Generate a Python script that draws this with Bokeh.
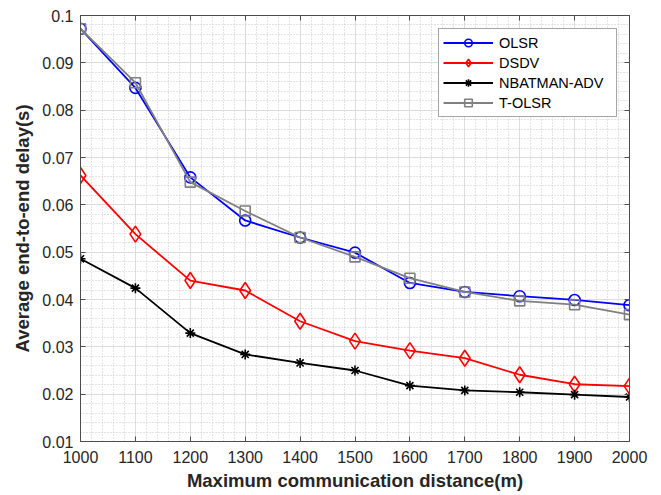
from bokeh.plotting import figure
from bokeh.models import (Range1d, FixedTicker, CustomJSTickFormatter, LinearAxis,
                          Legend, LegendItem)
from bokeh.embed import file_html
from bokeh.resources import INLINE

distance = [1000, 1100, 1200, 1300, 1400, 1500, 1600, 1700, 1800, 1900, 2000]
olsr = [0.0972, 0.0847, 0.0658, 0.0567, 0.0531, 0.0499, 0.0435, 0.0416, 0.0407, 0.0399, 0.0388]
dsdv = [0.0662, 0.0538, 0.0440, 0.0419, 0.0354, 0.0312, 0.0292, 0.0276, 0.0241, 0.0221, 0.0217]
nbatman = [0.0486, 0.0424, 0.0329, 0.0284, 0.0266, 0.0250, 0.0218, 0.0208, 0.0204, 0.0199, 0.0194]
tolsr = [0.0972, 0.0858, 0.0648, 0.0587, 0.0531, 0.0490, 0.0445, 0.0416, 0.0397, 0.0389, 0.0368]
series_names = ["OLSR", "DSDV", "NBATMAN-ADV", "T-OLSR"]
x_ticks = [1000, 1100, 1200, 1300, 1400, 1500, 1600, 1700, 1800, 1900, 2000]
y_ticks = [0.01, 0.02, 0.03, 0.04, 0.05, 0.06, 0.07, 0.08, 0.09, 0.1]

FONT = "Liberation Sans"
AX = "#4d4d4d"
TXT = "#262626"

p = figure(width=661, height=495, output_backend="svg", toolbar_location=None,
           x_range=Range1d(1000, 2000), y_range=Range1d(0.01, 0.1),
           min_border_left=80, min_border_right=32, min_border_top=15, min_border_bottom=54,
           background_fill_color="white", border_fill_color="white")
p.outline_line_color = AX

for ax in (p.xaxis[0], p.yaxis[0]):
    ax.axis_line_color = AX
    ax.major_tick_line_color = AX
    ax.major_tick_in = 5
    ax.major_tick_out = 0
    ax.minor_tick_in = 0
    ax.minor_tick_out = 0
    ax.major_label_text_font = FONT
    ax.major_label_text_color = TXT
    ax.axis_label_text_font = FONT
    ax.axis_label_text_font_style = "bold"
    ax.axis_label_text_color = TXT

p.xaxis.ticker = FixedTicker(ticks=x_ticks, minor_ticks=list(range(1000, 2001, 20)))
p.yaxis.ticker = FixedTicker(ticks=y_ticks, minor_ticks=[round(0.01 + 0.002 * i, 4) for i in range(46)])
p.yaxis.formatter = CustomJSTickFormatter(code="return parseFloat(tick.toFixed(3)).toString();")
p.xaxis.major_label_text_font_size = "16px"
p.yaxis.major_label_text_font_size = "16px"
p.xaxis.axis_label = "Maximum communication distance(m)"
p.yaxis.axis_label = "Average end-to-end delay(s)"
p.xaxis.axis_label_text_font_size = "18.5px"
p.yaxis.axis_label_text_font_size = "18.5px"
p.xaxis.major_label_standoff = 9
p.yaxis.major_label_standoff = 7
p.xaxis.axis_label_standoff = 4
p.yaxis.axis_label_standoff = 6

# top and right axes (box with ticks, no labels)
blank = CustomJSTickFormatter(code="return '';")
top = LinearAxis(ticker=FixedTicker(ticks=x_ticks), formatter=blank,
                 major_tick_in=5, major_tick_out=0, minor_tick_in=0, minor_tick_out=0,
                 axis_line_color=AX, major_tick_line_color=AX, major_label_text_font_size="1px",
                 major_label_standoff=0)
right = LinearAxis(ticker=FixedTicker(ticks=y_ticks), formatter=blank,
                   major_tick_in=5, major_tick_out=0, minor_tick_in=0, minor_tick_out=0,
                   axis_line_color=AX, major_tick_line_color=AX, major_label_text_font_size="1px",
                   major_label_standoff=0)
p.add_layout(top, "above")
p.add_layout(right, "right")

for g in (p.xgrid[0], p.ygrid[0]):
    g.grid_line_color = "#dcdcdc"
    g.grid_line_width = 1
    g.minor_grid_line_color = "#c8c8c8"
    g.minor_grid_line_dash = "1 2"
    g.minor_grid_line_width = 1

styles = [
    (olsr, "#0000ff", "circle", 11),
    (dsdv, "#ff0000", "diamond", 16),
    (nbatman, "#000000", "asterisk", 10),
    (tolsr, "#808080", "square", 10),
]
items = []
for name, (ys, col, mk, sz) in zip(series_names, styles):
    ln = p.line(distance, ys, line_color=col, line_width=1.8)
    sc = p.scatter(distance, ys, marker=mk, size=sz, line_color=col, fill_color=None,
                   line_width=1.6)
    items.append(LegendItem(label=name, renderers=[ln, sc]))

legend = Legend(items=items, location=(358, 324))
legend.label_text_font = FONT
legend.label_text_font_size = "14.5px"
legend.label_text_color = "#000000"
legend.glyph_width = 50
legend.glyph_height = 19
legend.label_height = 19
legend.label_width = 113
legend.spacing = 1
legend.padding = 4
legend.margin = 0
legend.border_line_color = AX
legend.border_line_width = 1
legend.background_fill_color = "white"
legend.background_fill_alpha = 1
legend.label_standoff = 6
p.add_layout(legend, "center")

open("out.html", "w").write(file_html(p, INLINE))
